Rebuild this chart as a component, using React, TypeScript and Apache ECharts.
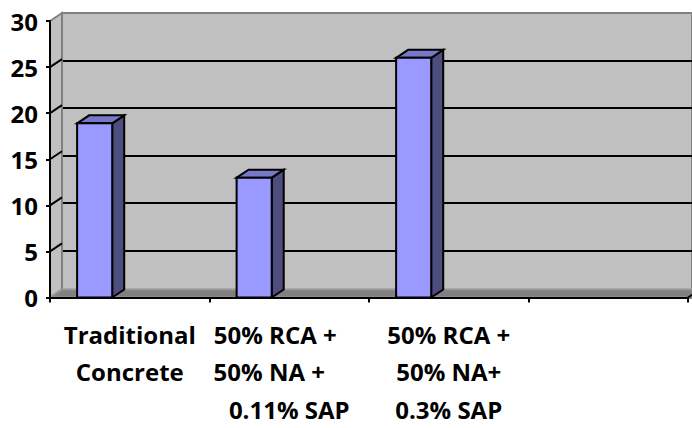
import { useEffect, useRef } from "react";
import * as echarts from "echarts";

// Category labels (one entry per line) and the measured values
const categoryLines: string[][] = [
  ["Traditional", "Concrete"],
  ["50% RCA +", "50% NA +", "0.11% SAP"],
  ["50% RCA +", "50% NA+", "0.3% SAP"],
  [],
];
const strengthValues = [18.9, 13.0, 26.0];
const yTickValues = [0, 5, 10, 15, 20, 25, 30];

// 3D look: depth offset of the back wall
const DX = 12;
const DY = -8;
// Bar position inside its category band (fractions of band width)
const BAR_OFFSET = 0.17;
const BAR_WIDTH = 0.22;

const FRONT = { left: 50, top: 21, right: 4, bottom: 122 };
const FONT = "'Open Sans', 'Liberation Sans', sans-serif";

export default function App() {
  const ref = useRef<HTMLDivElement>(null);

  useEffect(() => {
    if (!ref.current) return;
    const chart = echarts.init(ref.current, null, { renderer: "svg" });

    const yMin = yTickValues[0];
    const yMax = yTickValues[yTickValues.length - 1];
    const yStep = yTickValues[1] - yTickValues[0];
    const innerTicks = yTickValues.slice(1, -1);

    const categories = categoryLines.map((l) => l.join("\n"));

    const frameRender = (params: any, api: any) => {
      const cs = params.coordSys;
      const left = cs.x;
      const top = cs.y;
      const right = cs.x + cs.width;
      const bottom = cs.y + cs.height;
      const children: any[] = [];
      // left side wall
      children.push({
        type: "polygon",
        shape: {
          points: [
            [left, top],
            [left + DX, top + DY],
            [left + DX, bottom + DY],
            [left, bottom],
          ],
        },
        style: { fill: "#c0c0c0", stroke: "#808080", lineWidth: 2 },
      });
      // floor
      children.push({
        type: "polygon",
        shape: {
          points: [
            [left, bottom],
            [left + DX, bottom + DY],
            [right + DX, bottom + DY],
            [right, bottom],
          ],
        },
        style: { fill: "#808080", stroke: "#969696", lineWidth: 2 },
      });
      // gridlines running across the side wall
      innerTicks.forEach((v) => {
        const y = api.coord([0, v])[1];
        children.push({
          type: "line",
          shape: { x1: left, y1: y, x2: left + DX, y2: y + DY },
          style: { stroke: "#000", lineWidth: 2 },
        });
      });
      // right end of the floor
      children.push({
        type: "line",
        shape: { x1: right, y1: bottom, x2: right + DX, y2: bottom + DY },
        style: { stroke: "#000", lineWidth: 2 },
      });
      return { type: "group", children };
    };

    const barRender = (params: any, api: any) => {
      const idx = api.value(0);
      const val = api.value(1);
      const [cx, yTop] = api.coord([idx, val]);
      const yBase = api.coord([idx, 0])[1];
      const band = api.size([1, 0])[0];
      const x0 = cx - band / 2 + band * BAR_OFFSET;
      const x1 = x0 + band * BAR_WIDTH;
      const edge = { stroke: "#000", lineWidth: 2, lineJoin: "miter" };
      return {
        type: "group",
        children: [
          {
            type: "polygon",
            shape: {
              points: [
                [x1, yTop],
                [x1 + DX, yTop + DY],
                [x1 + DX, yBase + DY],
                [x1, yBase],
              ],
            },
            style: { fill: "#4d4d80", ...edge },
          },
          {
            type: "polygon",
            shape: {
              points: [
                [x0, yTop],
                [x0 + DX, yTop + DY],
                [x1 + DX, yTop + DY],
                [x1, yTop],
              ],
            },
            style: { fill: "#7878c8", ...edge },
          },
          {
            type: "rect",
            shape: { x: x0, y: yTop, width: x1 - x0, height: yBase - yTop },
            style: { fill: "#9999ff", ...edge },
          },
        ],
      };
    };

    const labelStyle = { fontFamily: FONT, fontWeight: "bold" as const, fontSize: 24, color: "#000", lineHeight: 37.5 };

    chart.setOption({
      animation: false,
      backgroundColor: "#ffffff",
      grid: [
        { ...FRONT },
        {
          left: FRONT.left + DX,
          top: FRONT.top + DY,
          right: FRONT.right - DX,
          bottom: FRONT.bottom - DY,
          show: true,
          backgroundColor: "#c0c0c0",
          borderColor: "#808080",
          borderWidth: 2,
        },
      ],
      xAxis: [
        {
          type: "category",
          gridIndex: 0,
          data: categories,
          boundaryGap: true,
          z: 3,
          axisLine: { show: true, lineStyle: { color: "#000", width: 2 } },
          axisTick: { show: true, length: 5, alignWithLabel: false, interval: 0, lineStyle: { color: "#000", width: 2 } },
          splitLine: { show: false },
          axisLabel: {
            interval: 0,
            margin: 18,
            ...labelStyle,
            formatter: (value: string, index: number) => {
              const lines = categoryLines[index] || [];
              if (index === 1) {
                return lines
                  .map((l, i) => (i === 0 ? `{a|${l}}` : i === 1 ? `{b|${l}}` : `{c|${l}}`))
                  .join("\n");
              }
              return value;
            },
            rich: {
              a: { ...labelStyle, padding: [0, 28, 0, 0] },
              b: { ...labelStyle, padding: [0, 40, 0, 0] },
              c: { ...labelStyle },
            },
          },
        },
        { type: "category", gridIndex: 1, data: categories, show: false },
      ],
      yAxis: [
        {
          type: "value",
          gridIndex: 0,
          min: yMin,
          max: yMax,
          interval: yStep,
          z: 3,
          axisLine: { show: true, lineStyle: { color: "#000", width: 2 } },
          axisTick: { show: true, length: 4, lineStyle: { color: "#000", width: 2 } },
          splitLine: { show: false },
          axisLabel: { margin: 12, ...labelStyle },
        },
        {
          type: "value",
          gridIndex: 1,
          min: yMin,
          max: yMax,
          interval: yStep,
          axisLine: { show: false },
          axisTick: { show: false },
          axisLabel: { show: false },
          splitLine: { show: true, showMinLine: false, showMaxLine: false, lineStyle: { color: "#000", width: 2 } },
        },
      ],
      series: [
        {
          type: "custom",
          name: "frame",
          xAxisIndex: 0,
          yAxisIndex: 0,
          z: 1,
          silent: true,
          clip: false,
          data: [[0, 0]],
          renderItem: frameRender,
        },
        {
          type: "custom",
          name: "Strength",
          xAxisIndex: 0,
          yAxisIndex: 0,
          z: 5,
          clip: false,
          data: strengthValues.map((v, i) => [i, v]),
          renderItem: barRender,
        },
      ],
    });

    return () => chart.dispose();
  }, []);

  return (
    <div
      ref={ref}
      style={{ position: "absolute", left: 0, top: 0, width: 692, height: 428 }}
    />
  );
}
